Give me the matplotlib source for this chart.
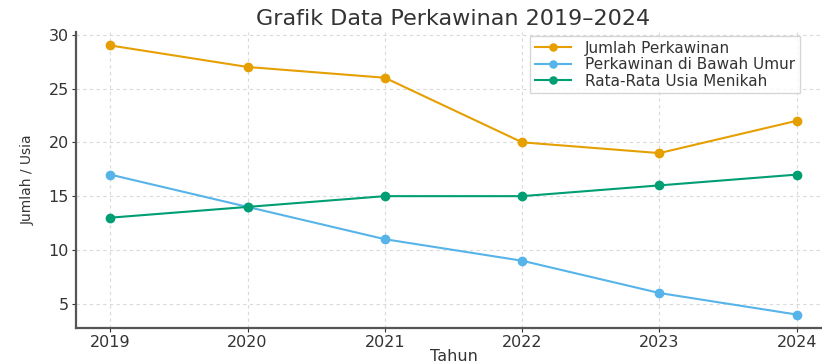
import matplotlib
matplotlib.use("Agg")
import matplotlib.pyplot as plt

years = [2019, 2020, 2021, 2022, 2023, 2024]
jumlah = [29, 27, 26, 20, 19, 22]
bawah_umur = [17, 14, 11, 9, 6, 4]
rata_usia = [13, 14, 15, 15, 16, 17]

labels = ["Jumlah Perkawinan", "Perkawinan di Bawah Umur", "Rata-Rata Usia Menikah"]
colors = ["#E69F00", "#56B4E9", "#009E73"]

W, H = 822, 363
fig = plt.figure(figsize=(W / 100, H / 100), dpi=100)
left, right, bottom, top = 76, 831, 328, 32
ax = fig.add_axes([left / W, 1 - bottom / H, (right - left) / W, (bottom - top) / H])

for vals, lab, c in zip([jumlah, bawah_umur, rata_usia], labels, colors):
    ax.plot(years, vals, marker="o", color=c, label=lab, linewidth=1.5, markersize=6)

ax.set_xticks(years)
ax.set_yticks([5, 10, 15, 20, 25, 30])
ax.tick_params(labelsize=11.5, colors="#333333", length=3, pad=2)
ax.grid(True, linestyle=(0, (3, 3)), color="#d9d9d9", linewidth=0.8)
for s in ["top", "right"]:
    ax.spines[s].set_visible(False)
for s in ["left", "bottom"]:
    ax.spines[s].set_color("#555555")
    ax.spines[s].set_linewidth(1.6)

ax.set_title("Grafik Data Perkawinan 2019–2024", fontsize=16, color="#333333", pad=5)
ax.set_xlabel("Tahun", fontsize=11.5, color="#333333", labelpad=-1)
ax.set_ylabel("Jumlah / Usia", fontsize=10, color="#333333", labelpad=10)
leg = ax.legend(loc="upper left", bbox_to_anchor=(530 / W, 1 - 36 / H),
                bbox_transform=fig.transFigure, fontsize=11, frameon=True,
                edgecolor="#cccccc", fancybox=False, borderaxespad=0, borderpad=0.3,
                handlelength=2.4, handletextpad=0.9, labelspacing=0.1, markerscale=0.85)
for t in leg.get_texts():
    t.set_color("#333333")

fig.savefig("out.png", dpi=100)
